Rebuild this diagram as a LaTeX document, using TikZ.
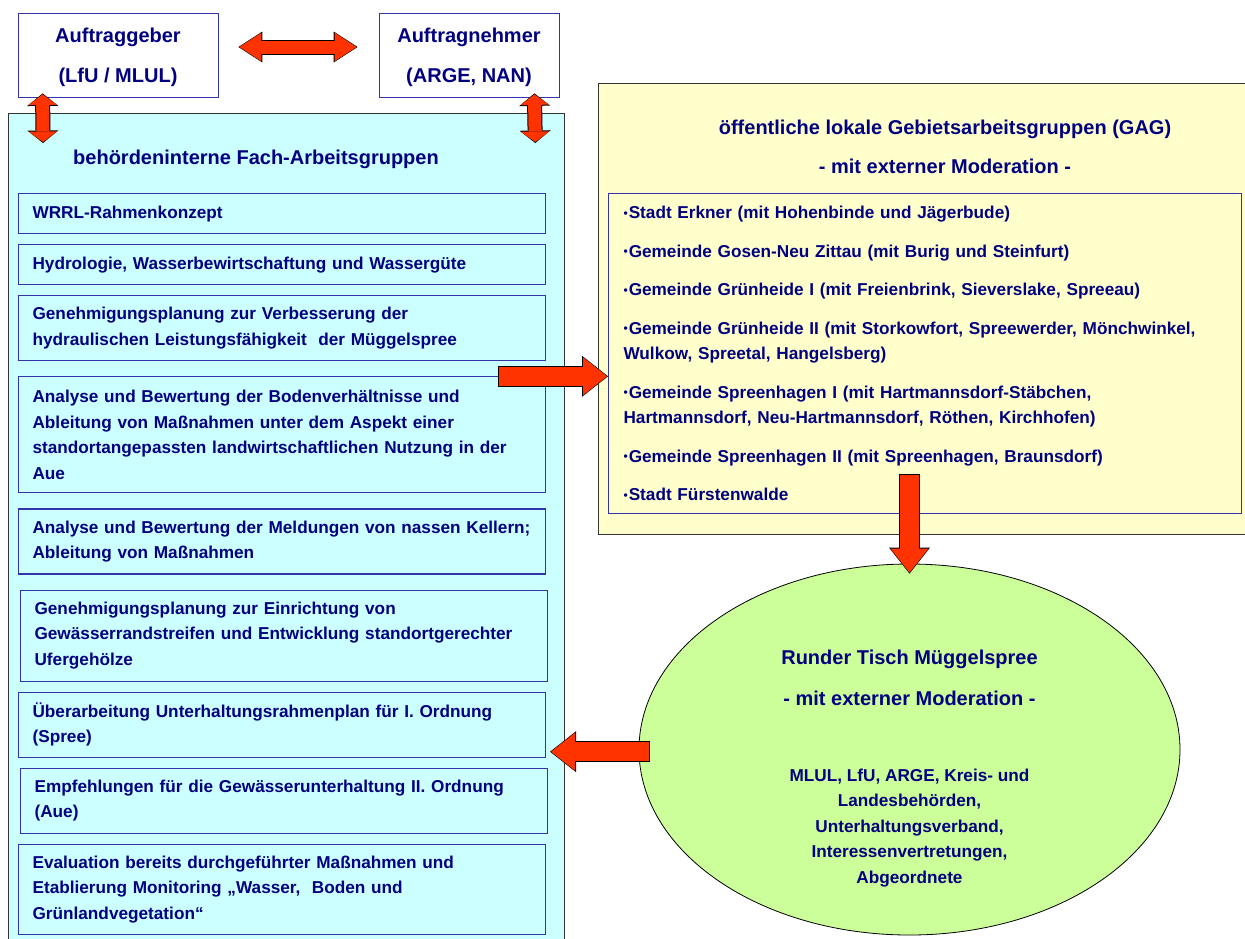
\documentclass[tikz,border=0pt]{standalone}
\usepackage{fontspec}
\setmainfont{Liberation Sans}
\usetikzlibrary{positioning, shapes.geometric, arrows.meta}

\definecolor{navytext}{HTML}{000080}
\definecolor{boxblue}{HTML}{3333AA}
\definecolor{fachcyan}{HTML}{CCFFFF}
\definecolor{gaggelb}{HTML}{FFFFCC}
\definecolor{tischgruen}{HTML}{CCFF99}
\definecolor{pfeilrot}{HTML}{FF3300}

\newcommand\boxfont{\fontsize{17.2pt}{25.5pt}\selectfont\bfseries}
\newcommand\titelfont{\fontsize{20pt}{40pt}\selectfont\bfseries}
\newcommand\punkt{\raisebox{1.5pt}{\fontsize{12pt}{12pt}\selectfont •}\kern1pt}

\begin{document}
\begin{tikzpicture}[x=1pt, y=-1pt,
     node distance = 10pt and 10pt,
every node/.style = {text=navytext},
      party/.style = {rectangle, draw=boxblue, fill=white, line width=0.8pt, minimum height=84pt,
                      text depth=0pt, align=center, font=\titelfont},
      group/.style = {rectangle, draw=black!80, line width=1.3pt, anchor=north west},
       task/.style = {rectangle, draw=boxblue, line width=1.1pt, text width=499pt, inner xsep=14pt,
                      inner ysep=0pt, align=left, font=\boxfont},
      title/.style = {align=center, font=\titelfont},
        fat/.style = {draw=pfeilrot, line width=19pt, shorten >=1pt,
                      -{Triangle[width=38pt, length=24pt, line width=0pt]},
                      preaction={draw=black, line width=21pt, shorten >=0pt, shorten <=-1pt,
                                 -{Triangle[width=41pt, length=26pt, line width=0pt]}}},
       hdbl/.style = {draw=pfeilrot, line width=13pt, shorten >=1pt, shorten <=1pt,
                      {Triangle[width=28.5pt, length=22pt, line width=0pt]}-{Triangle[width=28.5pt, length=22pt, line width=0pt]},
                      preaction={draw=black, line width=15pt, shorten >=0pt, shorten <=0pt,
                                 {Triangle[width=31pt, length=24pt, line width=0pt]}-{Triangle[width=31pt, length=24pt, line width=0pt]}}},
       vdbl/.style = {draw=pfeilrot, line width=13pt, shorten >=1pt, shorten <=1pt,
                      {Triangle[width=28.5pt, length=10.5pt, line width=0pt]}-{Triangle[width=28.5pt, length=10.5pt, line width=0pt]},
                      preaction={draw=black, line width=15pt, shorten >=0pt, shorten <=0pt,
                                 {Triangle[width=31pt, length=12.5pt, line width=0pt]}-{Triangle[width=31pt, length=12.5pt, line width=0pt]}}}
                        ]
\useasboundingbox (0,0) rectangle (1245,938);
% Vertragspartner
\node (geber)  [party, minimum width=200pt] at (118,55) {Auftraggeber\\(LfU / MLUL)};
\node (nehmer) [party, minimum width=180pt] at (469,55) {Auftragnehmer\\(ARGE, NAN)};
% behoerdeninterne Arbeitsgruppen
\node (fach) [group, fill=fachcyan, minimum width=556pt, minimum height=840pt] at (8,113) {};
\node (fachtitel) [title] at (256,159) {behördeninterne Fach-Arbeitsgruppen};
\node (wrrl) [task, minimum height=40pt, anchor=north west] at (18,193) {WRRL-Rahmenkonzept};
\node (hydro) [task, minimum height=40pt, below=of wrrl] {Hydrologie, Wasserbewirtschaftung und Wassergüte};
\node (verbess) [task, minimum height=65pt, below=of hydro] {Genehmigungsplanung zur Verbesserung der\\hydraulischen Leistungsfähigkeit\ \ der Müggelspree};
\node (boden) [task, minimum height=116pt, below=15pt of verbess] {Analyse und Bewertung der Bodenverhältnisse und\\Ableitung von Maßnahmen unter dem Aspekt einer\\standortangepassten landwirtschaftlichen Nutzung in der\\Aue};
\node (keller) [task, minimum height=65pt, below=15pt of boden] {Analyse und Bewertung der Meldungen von nassen Kellern;\\Ableitung von Maßnahmen};
\node (ufer) [task, minimum height=91pt, below=15pt of keller, xshift=2pt] {Genehmigungsplanung zur Einrichtung von\\Gewässerrandstreifen und Entwicklung standortgerechter\\Ufergehölze};
\node (plan1) [task, minimum height=65pt, below=of ufer, xshift=-2pt] {Überarbeitung Unterhaltungsrahmenplan für I. Ordnung\\(Spree)};
\node (plan2) [task, minimum height=65pt, below=of plan1, xshift=2pt] {Empfehlungen für die Gewässerunterhaltung II. Ordnung\\(Aue)};
\node (monitor) [task, minimum height=90pt, below=of plan2, xshift=-2pt] {Evaluation bereits durchgeführter Maßnahmen und\\Etablierung Monitoring „Wasser,\ \ Boden und\\Grünlandvegetation“};
% Gebietsarbeitsgruppen
\node (gag) [group, fill=gaggelb, minimum width=660pt, minimum height=451pt] at (598,83) {};
\node (gagtitel) [title, font=\fontsize{20pt}{39pt}\selectfont\bfseries] at (945,146.5) {öffentliche lokale Gebietsarbeitsgruppen (GAG)\\- mit externer Moderation -};
\node (gemeinden) [task, text width=603pt, inner xsep=15pt, minimum height=320pt, anchor=north west] at (608,193)
  {\punkt Stadt Erkner (mit Hohenbinde und Jägerbude)\\[13pt]
   \punkt Gemeinde Gosen-Neu Zittau (mit Burig und Steinfurt)\\[13pt]
   \punkt Gemeinde Grünheide I (mit Freienbrink, Sieverslake, Spreeau)\\[13pt]
   \punkt Gemeinde Grünheide II (mit Storkowfort, Spreewerder, Mönchwinkel,\\Wulkow, Spreetal, Hangelsberg)\\[13pt]
   \punkt Gemeinde Spreenhagen I (mit Hartmannsdorf-Stäbchen,\\Hartmannsdorf, Neu-Hartmannsdorf, Röthen, Kirchhofen)\\[13pt]
   \punkt Gemeinde Spreenhagen II (mit Spreenhagen, Braunsdorf)\\[13pt]
   \punkt Stadt Fürstenwalde};
% Runder Tisch
\node (tisch) [ellipse, draw=black, line width=0.8pt, fill=tischgruen, minimum width=541pt, minimum height=371pt, inner sep=0pt] at (909.5,749.5) {};
\node (tischtitel) [title, font=\fontsize{20pt}{41pt}\selectfont\bfseries] at (909.5,677.5) {Runder Tisch Müggelspree\\- mit externer Moderation -};
\node (tischtext) [align=center, font=\boxfont] at (909.5,828) {MLUL, LfU, ARGE, Kreis- und\\Landesbehörden,\\Unterhaltungsverband,\\Interessenvertretungen,\\Abgeordnete};
% Pfeile
\coordinate (abwaerts) at ([yshift=39pt]gemeinden.south);
\coordinate (rueck) at ([xshift=4pt, yshift=6pt]plan1.south east);
\coordinate (tischrand) at ([xshift=10pt]tisch.west);
\draw[hdbl] ([xshift=20pt, yshift=8pt]geber.east) -- ([xshift=-21pt, yshift=8pt]nehmer.west);
\draw[vdbl] ([xshift=25pt, yshift=4pt]geber.south west) -- ([xshift=35pt, yshift=-30pt]fach.north west);
\draw[vdbl] ([xshift=-25pt, yshift=4pt]nehmer.south east) -- ([xshift=-30pt, yshift=-30pt]fach.north east);
\draw[fat] ([xshift=-47pt]boden.north east) -- (gemeinden.west |- boden.north);
\draw[fat] (abwaerts -| tisch.north) -- ([yshift=-10pt]tisch.north);
\draw[fat] (tischrand |- rueck) -- (rueck);
\end{tikzpicture}
\end{document}
